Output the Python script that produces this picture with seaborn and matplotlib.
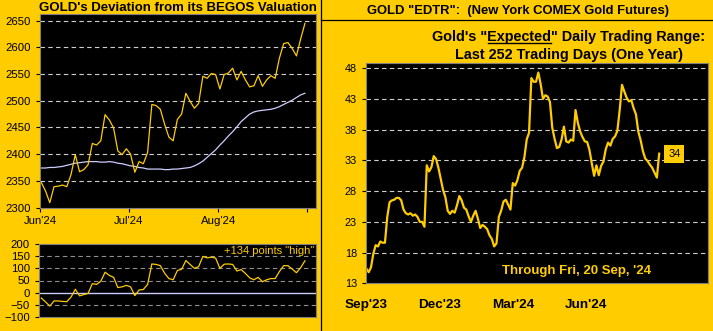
import numpy as np
import pandas as pd
import matplotlib
matplotlib.use("Agg")
import matplotlib.pyplot as plt
from matplotlib.lines import Line2D
import seaborn as sns

# ---------------- data ----------------
price = [2347, 2331, 2309, 2339, 2340, 2342, 2339, 2362, 2399, 2367,
         2371, 2380, 2420, 2417, 2425, 2474, 2464, 2449, 2406, 2399,
         2410, 2400, 2366, 2386, 2382, 2403, 2493, 2491, 2484, 2456,
         2432, 2425, 2465, 2475, 2514, 2499, 2486, 2495, 2546, 2542,
         2551, 2549, 2522, 2549, 2552, 2561, 2539, 2555, 2539, 2526,
         2528, 2547, 2527, 2539, 2547, 2542, 2580, 2607, 2609, 2598,
         2584, 2616, 2645]
valuation = [2374, 2374, 2375, 2375, 2376, 2377, 2379, 2381, 2383, 2384,
             2385, 2386, 2386, 2386, 2385, 2385, 2386, 2385, 2383, 2382,
             2380, 2378, 2377, 2375, 2374, 2372, 2372, 2372, 2372, 2371,
             2371, 2372, 2372, 2373, 2374, 2375, 2378, 2382, 2387, 2394,
             2401, 2408, 2417, 2425, 2434, 2442, 2451, 2461, 2468, 2475,
             2479, 2481, 2482, 2483, 2484, 2486, 2489, 2493, 2497, 2501,
             2506, 2511, 2514]
deviation = [-22, -38, -55, -34, -34, -36, -37, -18, 14, -13,
             -8, -3, 37, 34, 47, 84, 71, 63, 21, 24,
             30, 24, -12, 11, 13, 34, 118, 116, 111, 80,
             58, 53, 91, 96, 132, 116, 100, 107, 149, 143,
             146, 142, 100, 117, 118, 116, 89, 95, 79, 61,
             53, 63, 45, 53, 58, 58, 87, 111, 111, 97,
             82, 103, 131]
deviation_label = "+134 points \"high\""
left_tick_pos = [-0.3, 20.6, 41.6, 62.6]
left_tick_labels = ["Jun'24", "Jul'24", "Aug'24", ""]

# EDTR, sampled every 2 trading days over the last 252 days
edtr = [15.4, 14.8, 15.6, 17.8, 19.2, 19.0, 19.8, 19.6, 19.6, 23.8, 26.2, 26.5, 26.6, 26.9, 26.9, 26.5,
        25.0, 24.4, 24.2, 24.4, 24.0, 24.2, 23.8, 23.0, 23.0, 22.2, 32.2, 31.2, 31.9, 33.7, 33.2, 31.8,
        30.0, 28.2, 27.0, 24.8, 24.3, 24.8, 24.5, 25.7, 27.2, 26.5, 25.3, 25.0, 23.9, 23.0, 24.0, 24.8,
        23.5, 22.0, 22.5, 22.2, 21.8, 20.8, 20.2, 19.0, 19.5, 23.8, 24.8, 26.3, 26.6, 25.8, 25.0, 29.3,
        28.9, 29.8, 31.3, 31.8, 33.5, 36.4, 37.5, 46.4, 45.8, 45.8, 47.3, 45.4, 43.0, 43.6, 43.4, 42.5,
        38.3, 36.5, 35.0, 35.2, 36.4, 38.5, 36.1, 35.9, 36.4, 36.2, 41.2, 39.1, 37.7, 36.8, 36.1,
        36.0, 34.7, 32.5, 30.5, 32.2, 30.6, 32.1, 32.8, 34.8, 35.9, 35.4, 36.5, 36.9, 37.8, 41.2, 45.3,
        44.2, 43.2, 42.6, 42.8, 41.5, 40.5, 37.7, 36.3, 34.5, 33.3, 32.9, 32.3, 31.8, 31.0, 30.2, 34.1]
edtr_step = 2
right_tick_pos = [0, 63, 126, 189]
right_tick_labels = ["Sep'23", "Dec'23", "Mar'24", "Jun'24"]
right_yticks = [13, 18, 23, 28, 33, 38, 43, 48]

# ---------------- style ----------------
GOLD = "#FFCC00"
LINE_GOLD = "#FFCC00"
LAV = "#CCCCFF"
plt.rcParams['font.family'] = ['Liberation Sans', 'DejaVu Sans']

W, H = 713, 331
fig = plt.figure(figsize=(W / 100, H / 100), dpi=100, facecolor=GOLD)


def rect(l, t, r, b):
    return [l / W, 1 - b / H, (r - l) / W, (b - t) / H]


def style_ax(ax):
    ax.set_facecolor("black")
    for s in ax.spines.values():
        s.set_color("#808080")
        s.set_linewidth(0.8)
    ax.tick_params(colors="black", length=3, width=0.8, labelsize=8.2)
    ax.set_xlabel("")
    ax.set_ylabel("")


# --- upper left ---
idx = np.arange(len(price))
df_left = pd.DataFrame({"i": idx, "price": price, "val": valuation, "dev": deviation})

ax1 = fig.add_axes(rect(40, 14, 316, 207.5))
style_ax(ax1)
sns.lineplot(data=df_left, x="i", y="val", ax=ax1, color=LAV, linewidth=0.9)
sns.lineplot(data=df_left, x="i", y="price", ax=ax1, color=LINE_GOLD, linewidth=0.9)
ax1.set_xlim(-0.3, 64.6)
ax1.set_ylim(2300, 2662.5)
ax1.set_yticks(range(2300, 2651, 50))
for v in range(2350, 2651, 50):
    ax1.axhline(v, color="#D0D0D0", lw=0.8, ls=(0, (4, 3)), zorder=0)
ax1.set_xticks(left_tick_pos)
ax1.set_xticklabels(left_tick_labels)
ax1.tick_params(axis="x", pad=3)
ax1.set_xlabel("")
ax1.set_ylabel("")
fig.text(178 / W, 1 - 8 / H, "GOLD's Deviation from its BEGOS Valuation", ha="center", va="center",
         fontsize=9.5, fontweight="bold", color="black")

# --- lower left ---
ax2 = fig.add_axes(rect(39, 244, 316, 317))
style_ax(ax2)
for v in [150, 100, 50, -50]:
    ax2.axhline(v, color="#909090", lw=0.8, ls=(0, (4, 3)), zorder=0)
ax2.axhline(0, color=LAV, lw=1.0, zorder=1)
sns.lineplot(data=df_left, x="i", y="dev", ax=ax2, color=LINE_GOLD, linewidth=0.9)
ax2.set_xlim(-0.54, 64.6)
ax2.set_ylim(-100, 200)
ax2.set_yticks(range(-100, 201, 50))
ax2.set_xticks([])
ax2.set_xlabel("")
ax2.set_ylabel("")
ax2.text(0.995, 0.90, deviation_label, transform=ax2.transAxes, ha="right",
         va="center", color=GOLD, fontsize=8)

# --- right ---
df_r = pd.DataFrame({"day": np.arange(len(edtr)) * edtr_step, "edtr": edtr})
ax3 = fig.add_axes(rect(366, 62.7, 708, 283.3))
style_ax(ax3)
for v in right_yticks[1:]:
    ax3.axhline(v, color="#D0D0D0", lw=0.8, ls=(0, (4, 3)), zorder=0)
sns.lineplot(data=df_r, x="day", y="edtr", ax=ax3, color=LINE_GOLD, linewidth=1.6)
ax3.set_xlim(-0.3, 294)
ax3.set_ylim(13, 48.9)
ax3.set_yticks(right_yticks)
ax3.set_xticks(right_tick_pos)
ax3.set_xticklabels(right_tick_labels, fontweight="bold", fontsize=9.7)
ax3.tick_params(axis="x", length=0, pad=11)
ax3.tick_params(axis="y", labelsize=7.8)
ax3.set_xlabel("")
ax3.set_ylabel("")
last_day = df_r["day"].iloc[-1]
ax3.text(last_day + 13, edtr[-1], f"{round(edtr[-1])}", ha="center", va="center", fontsize=8,
         color="black", bbox=dict(boxstyle="square,pad=0.35", fc=GOLD, ec="none"))
ax3.text(0.615, 0.055, "Through Fri, 20 Sep, '24", transform=ax3.transAxes, ha="center", va="center",
         color=GOLD, fontsize=9.5, fontweight="bold")

# titles right
fig.text(518 / W, 1 - 11 / H, 'GOLD "EDTR":  (New York COMEX Gold Futures)', ha="center", va="center",
         fontsize=9.4, fontweight="bold", color="black")
SUB_FS = 10.4
line1 = fig.text(569 / W, 1 - 37 / H, 'Gold\'s "Expected" Daily Trading Range:', ha="center", va="center",
                 fontsize=SUB_FS, fontweight="bold", color="black")
fig.text(569 / W, 1 - 55 / H, 'Last 252 Trading Days (One Year)', ha="center", va="center",
         fontsize=SUB_FS, fontweight="bold", color="black")

# underline "Expected"
fig.canvas.draw()
renderer = fig.canvas.get_renderer()
bb = line1.get_window_extent(renderer)
tmp1 = fig.text(0, 0, 'Gold\'s "', fontsize=SUB_FS, fontweight="bold")
tmp2 = fig.text(0, 0, 'Gold\'s "Expected', fontsize=SUB_FS, fontweight="bold")
w1 = tmp1.get_window_extent(renderer).width
w2 = tmp2.get_window_extent(renderer).width
tmp1.remove()
tmp2.remove()
uy = bb.y0 + 1.5
fig.add_artist(Line2D([(bb.x0 + w1) / W, (bb.x0 + w2) / W], [uy / H, uy / H], color="black", lw=1.0,
                      transform=fig.transFigure))

# separators
fig.add_artist(Line2D([321 / W, 321 / W], [0, 1], color="black", lw=0.9, transform=fig.transFigure))
fig.add_artist(Line2D([321 / W, 1], [1 - 20 / H, 1 - 20 / H], color="black", lw=0.9, transform=fig.transFigure))

fig.savefig("out.png", dpi=100, facecolor=GOLD)
